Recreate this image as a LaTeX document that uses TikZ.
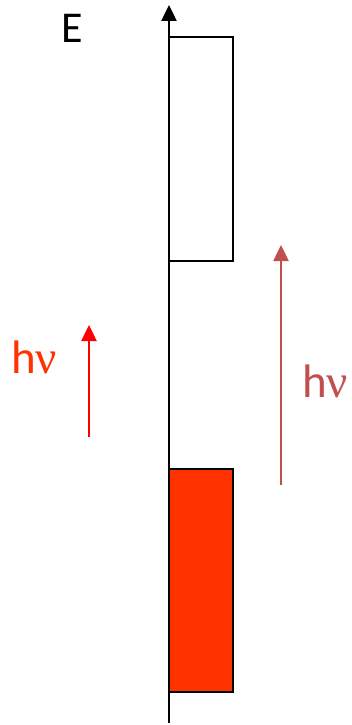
\documentclass[tikz,border=0pt]{standalone}
\usepackage{fontspec}
\setmainfont{Carlito}
\newfontfamily\nufont{Liberation Serif}
\usetikzlibrary{arrows.meta}
\definecolor{bandred}{HTML}{FF3300}
\definecolor{accred}{HTML}{C0504D}
\tikzset{
  band/.style={draw=black, line width=2.5pt},
  tip/.style={-{Triangle[width=15pt,length=16pt]}},
  lbl/.style={font=\fontsize{44}{44}\selectfont, inner sep=0pt, anchor=base},
  hv/.style={font=\fontsize{47}{47}\selectfont, inner sep=0pt, anchor=base}
}
\begin{document}
\begin{tikzpicture}[x=1pt,y=-1pt]
\useasboundingbox (0,0) rectangle (352,725);
% axis
\coordinate (ax0) at (169,723);
\coordinate (ax1) at (169,5);
\draw[tip, line width=2.5pt] (ax0) -- (ax1);
\node[lbl] (E) at (72,43) {E};
% bands
\draw[band, fill=white] (169,37) rectangle (233,261);
\draw[band, fill=bandred] (169,469) rectangle (233,692);
\draw[line width=2.5pt] (ax0) -- (169,469);
% left photon
\coordinate (l0) at (89,437);
\coordinate (l1) at (89,325);
\draw[tip, draw=red, fill=red, line width=2.5pt] (l0) -- (l1);
\node[hv, text=bandred] (hvl) at (34,373) {h{\nufont ν}};
% right photon
\coordinate (r0) at (281,485);
\coordinate (r1) at (281,245);
\draw[tip, draw=accred, fill=accred, line width=2.5pt] (r0) -- (r1);
\node[hv, text=accred] (hvr) at (325,397) {h{\nufont ν}};
\end{tikzpicture}
\end{document}
